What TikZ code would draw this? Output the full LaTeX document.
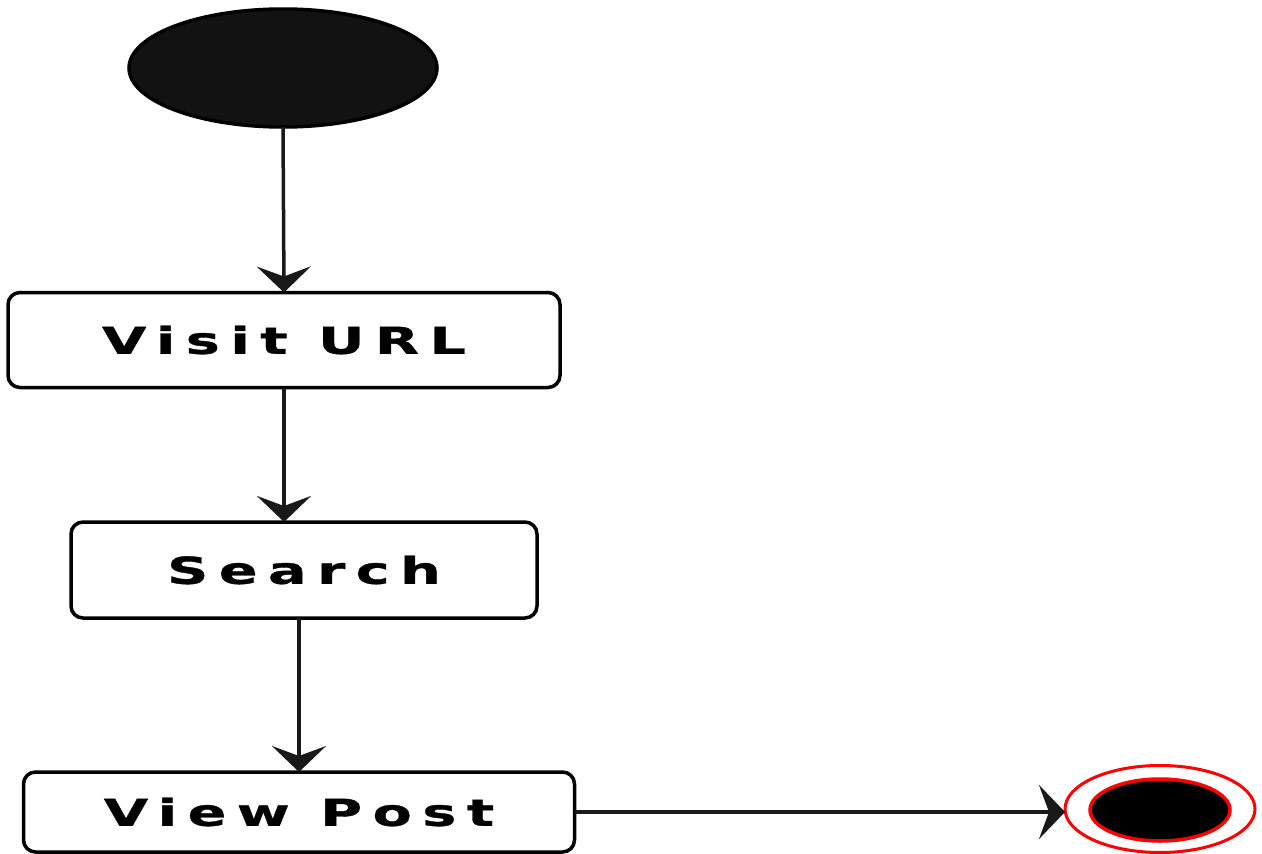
\documentclass[tikz,border=0pt]{standalone}
\usepackage{fontspec}
\setmainfont{DejaVu Sans}[BoldFont={DejaVu Sans Bold}]
\usetikzlibrary{shapes.geometric,arrows.meta}
\newfontfamily\labelfont{DejaVu Sans Bold}[FakeStretch=1.55,LetterSpace=28,FakeBold=1]
\begin{document}
\begin{tikzpicture}[x=1pt,y=-1pt,
  every node/.style={inner sep=0pt, outer sep=0pt},
  actionbox/.style={draw=black, line width=3.5pt, rounded corners=12pt, fill=white,
    font=\labelfont\fontsize{37}{37}\selectfont},
  flow/.style={line width=3.5pt, draw=black!90,
    -{Stealth[length=26pt, width=54pt, inset=10pt]}},
  initnode/.style={ellipse, draw=black, line width=3.5pt, fill=black!93},
  finalring/.style={ellipse, draw=red, line width=3pt},
  finalcore/.style={ellipse, draw=red, line width=3.5pt, fill=black}]
  \useasboundingbox (0,0) rectangle (1262,854);

  % initial state
  \node[initnode, minimum width=308pt, minimum height=118pt] (start) at (283,68) {};

  % actions
  \node[actionbox, minimum width=552pt, minimum height=95pt] (visit) at (284,340) {Visit URL};
  \node[actionbox, minimum width=466pt, minimum height=96pt] (search) at (304,570) {Search};
  \node[actionbox, minimum width=551pt, minimum height=80pt] (view) at (299,812) {View Post};

  % final state
  \node[finalring, minimum width=190pt, minimum height=87pt] (final) at (1160,809) {};
  \node[finalcore, minimum width=140pt, minimum height=62pt] (finalin) at (1160,810) {};

  % control flow
  \draw[flow] (start.south) -- (visit.north);
  \draw[flow] (visit.south) -- (visit.south |- search.north);
  \draw[flow] (view.north |- search.south) -- (view.north);
  \draw[flow] (view.east) -- (view.east -| final.west);
\end{tikzpicture}
\end{document}
